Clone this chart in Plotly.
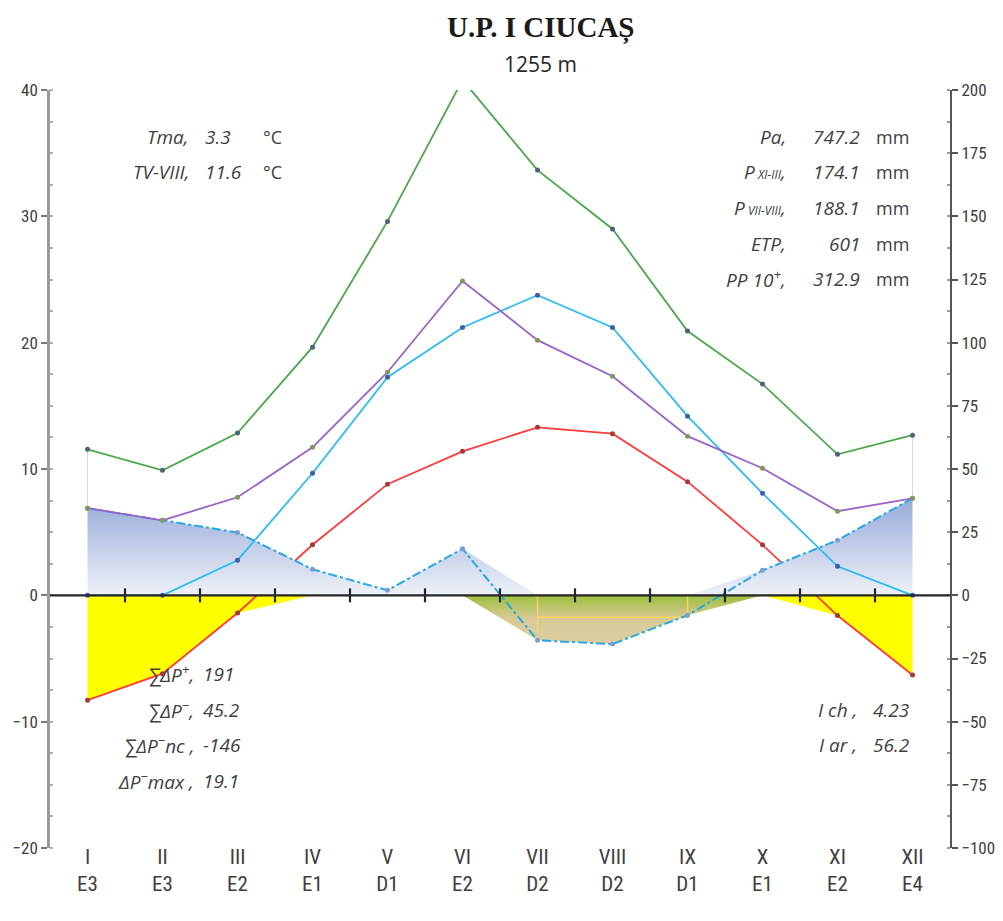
import plotly.graph_objects as go

# ---------------- data ----------------
months = ["I", "II", "III", "IV", "V", "VI", "VII", "VIII", "IX", "X", "XI", "XII"]
classes = ["E3", "E3", "E2", "E1", "D1", "E2", "D2", "D2", "D1", "E1", "E2", "E4"]

temperature = [-8.3, -6.2, -1.4, 4.0, 8.8, 11.4, 13.3, 12.8, 9.0, 4.0, -1.6, -6.3]       # °C, left axis
precipitation = [34.5, 29.7, 38.8, 58.6, 88.3, 124.4, 101.0, 86.7, 63.0, 50.3, 33.3, 38.4]  # mm, right axis
etp = [0.0, 0.0, 13.9, 48.3, 86.3, 106.0, 118.8, 106.0, 70.9, 40.4, 11.5, 0.0]           # mm
green_series = [57.8, 49.5, 64.2, 98.2, 148.0, 204.0, 168.3, 145.0, 104.6, 83.6, 55.8, 63.4]  # mm
delta_p = [34.5, 29.7, 24.9, 10.3, 2.0, 18.4, -17.8, -19.3, -7.9, 9.9, 21.8, 38.4]     # mm
guide_level = -8.7      # yellow guide line inside deficit area (mm)
guide_drop = -15.0      # yellow vertical guide at VII (mm)

left_stats = [("Tma,", "3.3", "°C"), ("TV-VIII,", "11.6", "°C")]
right_stats = [("Pa,", "747.2", "mm"),
               ("P<span style='font-size:12px'> XI-III</span>,", "174.1", "mm"),
               ("P<span style='font-size:12px'> VII-VIII</span>,", "188.1", "mm"),
               ("ETP,", "601", "mm"),
               ("PP 10<sup>+</sup>,", "312.9", "mm")]
bottom_left_stats = [("∑ΔP<sup>+</sup>,", "191"), ("∑ΔP<sup>−</sup>,", "45.2"),
                     ("∑ΔP<sup>−</sup>nc ,", "-146"), ("ΔP<sup>−</sup>max ,", "19.1")]
bottom_right_stats = [("I ch ,", "4.23"), ("I ar ,", "56.2")]

x = list(range(len(months)))
surplus = [max(v, 0) for v in delta_p]
deficit = [min(v, 0) for v in delta_p]
cold = [min(v, 0) for v in temperature]

# ---------------- figure ----------------
W, H = 1003, 921
OFF = 8  # page body margin
PL, PR, PT, PB = 50, 950, 90, 848   # desired plot area on the page (px)
L, T = PL - OFF, PT - OFF
R = W - (PR - OFF)
B = H - (PB - OFF)
PW, PH = PR - PL, PB - PT


def xp(px):
    return (px - PL) / PW


def yp(py):
    return (PB - py) / PH


fig = go.Figure()

# surplus area (blue gradient)
fig.add_trace(go.Scatter(
    x=x, y=surplus, yaxis="y2", mode="lines", line=dict(width=0),
    fill="tozeroy",
    fillgradient=dict(type="vertical", colorscale=[[0, "#eef1f8"], [1, "#93a8d8"]],
                      start=0, stop=40),
    hoverinfo="skip"))

# deficit area (olive gradient)
fig.add_trace(go.Scatter(
    x=x, y=deficit, yaxis="y2", mode="lines", line=dict(width=0),
    fill="tozeroy",
    fillgradient=dict(type="vertical",
                      colorscale=[[0, "#dccfa2"], [0.55, "#d8c996"], [1, "#9dbf3c"]],
                      start=-20, stop=0),
    hoverinfo="skip"))

# yellow guides inside deficit area
fig.add_trace(go.Scatter(
    x=[6, 6, None, 6, 8, 8],
    y=[0, guide_drop, None, guide_level, guide_level, 0],
    yaxis="y2", mode="lines", line=dict(color="rgba(255,215,90,0.85)", width=1.5),
    hoverinfo="skip"))

# cold months area (yellow)
fig.add_trace(go.Scatter(
    x=x, y=cold, yaxis="y", mode="lines", line=dict(width=0),
    fill="tozeroy", fillcolor="#ffff00", hoverinfo="skip"))

# faint drop lines at the ends
fig.add_trace(go.Scatter(
    x=[x[0], x[0], None, x[-1], x[-1]],
    y=[green_series[0], precipitation[0], None, green_series[-1], precipitation[-1]],
    yaxis="y2", mode="lines", line=dict(color="#d9d9d9", width=1), hoverinfo="skip"))

# zero line with crossing ticks at category boundaries
bounds = [i + 0.5 for i in range(len(months) - 1)]
fig.add_shape(type="line", xref="paper", x0=0, x1=1, yref="y", y0=0, y1=0,
              line=dict(color="#262626", width=2.2), layer="above")
for b in bounds:
    fig.add_shape(type="line", xref="x", yref="y", x0=b, x1=b,
                  ysizemode="pixel", yanchor=0, y0=-7, y1=7,
                  line=dict(color="#262626", width=2.2), layer="above")

# delta P dash-dot line
fig.add_trace(go.Scatter(
    x=x, y=delta_p, yaxis="y2", mode="lines+markers",
    line=dict(color="#27a8e3", width=2, dash="dashdot"),
    marker=dict(size=5, color="#7e9cd0")))

# ETP
fig.add_trace(go.Scatter(
    x=x, y=etp, yaxis="y2", mode="lines+markers",
    line=dict(color="#2bbcf2", width=1.8),
    marker=dict(size=5, color="#3f5fa6")))

# precipitation
fig.add_trace(go.Scatter(
    x=x, y=precipitation, yaxis="y2", mode="lines+markers",
    line=dict(color="#9a62c8", width=1.8),
    marker=dict(size=5, color="#7f9a5a")))

# temperature
fig.add_trace(go.Scatter(
    x=x, y=temperature, yaxis="y", mode="lines+markers",
    line=dict(color="#ff3b3b", width=1.8),
    marker=dict(size=5, color="#a33a3a")))

# green line
fig.add_trace(go.Scatter(
    x=x, y=green_series, yaxis="y2", mode="lines+markers",
    line=dict(color="#4aa84a", width=1.8),
    marker=dict(size=5, color="#52607e")))

# ---------------- annotations ----------------
ann = []
ital = dict(family="Open Sans, sans-serif", size=19, color="#404040")
up = dict(family="Open Sans, sans-serif", size=18, color="#404040")


def txt(px, py, text, anchor, font, style="italic"):
    f = dict(font)
    f["style"] = style
    ann.append(dict(x=xp(px), y=yp(py), xref="paper", yref="paper", text=text,
                    showarrow=False, xanchor=anchor, yanchor="middle", font=f))


ys = [137, 172]
for (lab, val, unit), yy in zip(left_stats, ys):
    txt(191, yy, lab, "right", ital)
    txt(203, yy, val, "left", ital)
    txt(261, yy, unit, "left", up, "normal")

ys = [137, 172, 208, 244, 279]
for (lab, val, unit), yy in zip(right_stats, ys):
    txt(788, yy, lab, "right", ital)
    txt(862, yy, val, "right", ital)
    txt(874, yy, unit, "left", up, "normal")

ys = [674, 710, 745, 781]
for (lab, val), yy in zip(bottom_left_stats, ys):
    txt(196, yy, lab, "right", ital)
    txt(201, yy, val, "left", ital)

ys = [710, 745]
for (lab, val), yy in zip(bottom_right_stats, ys):
    txt(859, yy, lab, "right", ital)
    txt(871, yy, val, "left", ital)

# title / subtitle
ann.append(dict(x=xp(540), y=yp(28), xref="paper", yref="paper", showarrow=False,
                text="<b>U.P. I CIUCAȘ</b>", xanchor="center", yanchor="middle",
                font=dict(family="Liberation Serif, Times New Roman, serif", size=29, color="#1a1a1a")))
ann.append(dict(x=xp(540), y=yp(64), xref="paper", yref="paper", showarrow=False,
                text="1255 m", xanchor="center", yanchor="middle",
                font=dict(family="Open Sans, sans-serif", size=21, color="#262626")))

narrow = "Liberation Sans Narrow, Arial Narrow, Roboto Condensed, sans-serif"

fig.update_layout(
    width=W, height=H,
    margin=dict(l=L, r=R, t=T, b=B, pad=0, autoexpand=False),
    paper_bgcolor="white", plot_bgcolor="white",
    showlegend=False,
    annotations=ann,
    xaxis=dict(range=[-0.5, 11.5], tickmode="array", tickvals=x,
               ticktext=[f"{m}<br>{c}" for m, c in zip(months, classes)],
               showgrid=False, zeroline=False, showline=False, ticks="",
               automargin=False, ticklabelstandoff=-6,
               tickfont=dict(family=narrow, size=21, color="#404040")),
    yaxis=dict(range=[-20, 40], dtick=10, showgrid=False, zeroline=False,
               showline=True, linecolor="#9a9a9a", linewidth=2.5, automargin=False,
               ticks="outside", ticklen=6, tickwidth=2, tickcolor="#7a7a7a",
               minor=dict(dtick=2.5, ticks="inside", ticklen=3, tickcolor="#b0b0b0"),
               tickfont=dict(family=narrow, size=17, color="#404040")),
    yaxis2=dict(range=[-100, 200], dtick=25, overlaying="y", side="right",
                showgrid=False, zeroline=False, automargin=False,
                showline=True, linecolor="#555555", linewidth=2,
                ticks="outside", ticklen=6, tickwidth=2, tickcolor="#555555",
                minor=dict(dtick=12.5, ticks="inside", ticklen=3, tickcolor="#999999"),
                tickfont=dict(family=narrow, size=17, color="#404040")),
)

fig.write_html("out.html")
